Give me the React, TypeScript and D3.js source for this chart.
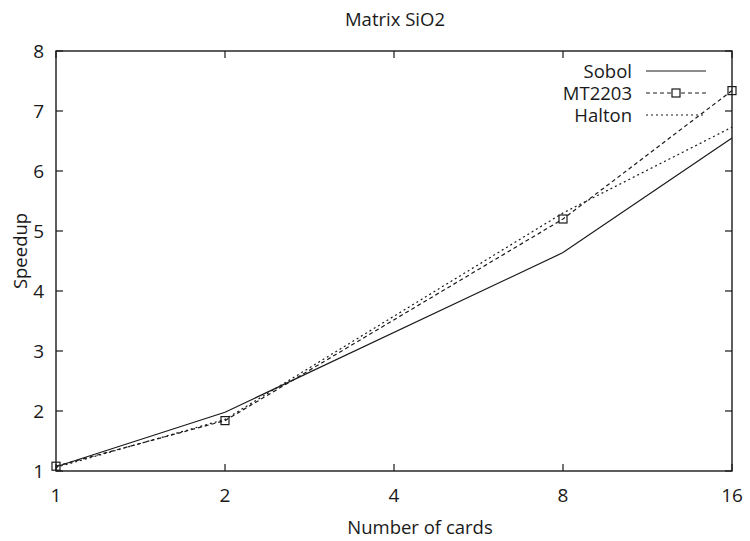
import React from "react";
import * as d3 from "d3";

const cards = [1, 2, 8, 16];
const sobol = [1.07, 1.98, 4.64, 6.55];
const mt2203 = [1.08, 1.84, 5.2, 7.34];
const halton = [1.06, 1.86, 5.3, 6.73];
const xTicks = [1, 2, 4, 8, 16];
const yTicks = [1, 2, 3, 4, 5, 6, 7, 8];

const W = 750, H = 541;
const M = { left: 56, right: 732, top: 51, bottom: 471 };
const FONT = "'Open Sans', 'DejaVu Sans', sans-serif";
const INK = "#1a1a1a";

export default function App() {
  const x = d3.scaleLog().base(2).domain([1, 16]).range([M.left, M.right]);
  const y = d3.scaleLinear().domain([1, 8]).range([M.bottom, M.top]);
  const line = d3.line<number>().x((_, i) => x(cards[i])).y((d) => y(d));
  const series = [
    { name: "Sobol", data: sobol, dash: "none", marker: false },
    { name: "MT2203", data: mt2203, dash: "4,3", marker: true },
    { name: "Halton", data: halton, dash: "2,3", marker: false },
  ];
  const tl = 7;
  return (
    <svg width={W} height={H} style={{ position: "absolute", left: 0, top: 0, background: "#fff" }}>
      <text x={395} y={26} textAnchor="middle" fontFamily={FONT} fontSize={18.5} fill={INK}>Matrix SiO2</text>
      {yTicks.map((t) => (
        <g key={"y" + t}>
          <line x1={M.left} x2={M.left + tl} y1={y(t)} y2={y(t)} stroke={INK} strokeWidth={1.2} />
          <line x1={M.right} x2={M.right - tl} y1={y(t)} y2={y(t)} stroke={INK} strokeWidth={1.2} />
          <text x={44} y={y(t)} dy="0.36em" textAnchor="end" fontFamily={FONT} fontSize={19} fill={INK}>{t}</text>
        </g>
      ))}
      {xTicks.map((t) => (
        <g key={"x" + t}>
          <line x1={x(t)} x2={x(t)} y1={M.bottom} y2={M.bottom - tl} stroke={INK} strokeWidth={1.2} />
          <line x1={x(t)} x2={x(t)} y1={M.top} y2={M.top + tl} stroke={INK} strokeWidth={1.2} />
          <text x={x(t)} y={502} textAnchor="middle" fontFamily={FONT} fontSize={19} fill={INK}>{t}</text>
        </g>
      ))}
      <rect x={M.left} y={M.top} width={M.right - M.left} height={M.bottom - M.top} fill="none" stroke={INK} strokeWidth={1.4} />
      <text x={420} y={534} textAnchor="middle" fontFamily={FONT} fontSize={18.5} fill={INK}>Number of cards</text>
      <text transform={`translate(27,251) rotate(-90)`} textAnchor="middle" fontFamily={FONT} fontSize={18.5} fill={INK}>Speedup</text>
      {series.map((s, k) => (
        <g key={s.name}>
          <path d={line(s.data) || ""} fill="none" stroke={INK} strokeWidth={1.2} strokeDasharray={s.dash} />
          {s.marker && s.data.map((v, i) => (
            <rect key={i} x={x(cards[i]) - 4} y={y(v) - 4} width={8} height={8} fill="none" stroke={INK} strokeWidth={1.2} />
          ))}
          <text x={632} y={71 + k * 22} dy="0.36em" textAnchor="end" fontFamily={FONT} fontSize={18.5} fill={INK}>{s.name}</text>
          <line x1={646} x2={706} y1={71 + k * 22} y2={71 + k * 22} stroke={INK} strokeWidth={1.2} strokeDasharray={s.dash} />
          {s.marker && <rect x={672} y={67 + k * 22} width={8} height={8} fill="#fff" stroke={INK} strokeWidth={1.2} />}
        </g>
      ))}
    </svg>
  );
}
